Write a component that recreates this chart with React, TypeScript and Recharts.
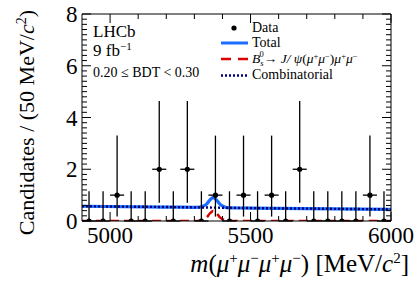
import React from "react";
import { ComposedChart, Line, Scatter, XAxis, YAxis, ErrorBar } from "recharts";

// ---- data ----
const binCenters = [4925, 4975, 5025, 5075, 5125, 5175, 5225, 5275, 5325, 5375, 5425, 5475, 5525, 5575, 5625, 5675, 5725, 5775, 5825, 5875, 5925, 5975];
const counts = [0, 0, 1, 0, 0, 2, 0, 2, 0, 1, 0, 1, 0, 1, 0, 2, 0, 0, 0, 0, 1, 0];
// lower / upper ends of the vertical error bars, per count value
const barLow = [0, 0.17, 0.71];
const barHigh = [1.15, 3.3, 4.64];
const halfBin = 25;

const combMass = [4900, 5200, 5500, 5800, 6000];
const combVals = [0.57, 0.54, 0.5, 0.47, 0.45];

const sigMass = [4900, 5300, 5320, 5335, 5345, 5355, 5362, 5367, 5372, 5380, 5390, 5400, 5415, 5430, 6000];
const sigVals = [0, 0, 0.01, 0.07, 0.15, 0.29, 0.36, 0.39, 0.36, 0.29, 0.15, 0.07, 0.01, 0, 0];

const totMass = [4900, 5200, 5300, 5320, 5335, 5345, 5355, 5362, 5367, 5372, 5380, 5390, 5400, 5415, 5430, 5500, 5800, 6000];
const totVals = [0.57, 0.54, 0.53, 0.535, 0.59, 0.67, 0.81, 0.88, 0.91, 0.88, 0.8, 0.66, 0.58, 0.52, 0.51, 0.5, 0.47, 0.45];

const xTicks = [5000, 5100, 5200, 5300, 5400, 5500, 5600, 5700, 5800, 5900, 6000];
const xMajor = [5000, 5500, 6000];
const yTicks = Array.from({ length: 41 }, (_, i) => Number((i * 0.2).toFixed(1)));
const yMajor = [0, 2, 4, 6, 8];

const FONT = "'Liberation Serif', 'Times New Roman', serif";
const BLUE = "#1a6dff";
const RED = "#dd0000";
const NAVY = "#00007f";

const points = binCenters.map((x, i) => ({
  x,
  y: counts[i],
  ey: [counts[i] - barLow[counts[i]], barHigh[counts[i]] - counts[i]],
  ex: halfBin,
}));
const comb = combMass.map((x, i) => ({ x, y: combVals[i] }));
const sig = sigMass.map((x, i) => ({ x, y: sigVals[i] }));
const tot = totMass.map((x, i) => ({ x, y: totVals[i] }));

const isMajorY = (v: number) => yMajor.some((m) => Math.abs(m - v) < 1e-6);

const BottomTick = (p: any) => {
  const v = p.payload.value;
  const major = xMajor.includes(v);
  return (
    <g>
      <line x1={p.x} x2={p.x} y1={p.y} y2={p.y - (major ? 9 : 5)} stroke="#000" strokeWidth={1} />
      {major && (
        <text x={p.x} y={p.y + 22} textAnchor="middle" fontFamily={FONT} fontSize={23} fill="#000">
          {v}
        </text>
      )}
    </g>
  );
};
const TopTick = (p: any) => {
  const v = p.payload.value;
  const major = xMajor.includes(v);
  return <line x1={p.x} x2={p.x} y1={p.y} y2={p.y + (major ? 9 : 5)} stroke="#000" strokeWidth={1} />;
};
const LeftTick = (p: any) => {
  const v = p.payload.value;
  const major = isMajorY(v);
  return (
    <g>
      <line x1={p.x} x2={p.x + (major ? 9 : 5)} y1={p.y} y2={p.y} stroke="#000" strokeWidth={1} />
      {major && (
        <text x={p.x - 4.5} y={p.y} dy="0.35em" textAnchor="end" fontFamily={FONT} fontSize={23} fill="#000">
          {v}
        </text>
      )}
    </g>
  );
};
const RightTick = (p: any) => {
  const v = p.payload.value;
  const major = isMajorY(v);
  return <line x1={p.x} x2={p.x - (major ? 9 : 5)} y1={p.y} y2={p.y} stroke="#000" strokeWidth={1} />;
};

const Dot = (p: any) => <circle cx={p.cx} cy={p.cy} r={2.6} fill="#000" />;

export default function App() {
  return (
    <div style={{ position: "relative", width: 415, height: 283, background: "#fff" }}>
      <style>{"body{margin:0}"}</style>
      <ComposedChart width={415} height={283} margin={{ top: 0, right: 0, bottom: 0, left: 0 }}>
        <XAxis
          xAxisId={0}
          dataKey="x"
          type="number"
          domain={[4900, 6000]}
          allowDataOverflow
          ticks={xTicks}
          interval={0}
          height={62}
          tickSize={0}
          tickMargin={0}
          tickLine={false}
          tick={BottomTick}
          axisLine={{ stroke: "#000", strokeWidth: 1 }}
        />
        <XAxis
          xAxisId="top"
          orientation="top"
          dataKey="x"
          type="number"
          domain={[4900, 6000]}
          allowDataOverflow
          ticks={xTicks}
          interval={0}
          height={14}
          tickSize={0}
          tickMargin={0}
          tickLine={false}
          tick={TopTick}
          axisLine={{ stroke: "#000", strokeWidth: 1 }}
        />
        <YAxis
          yAxisId={0}
          type="number"
          domain={[0, 8]}
          allowDataOverflow
          ticks={yTicks}
          interval={0}
          width={82}
          tickSize={0}
          tickMargin={0}
          tickLine={false}
          tick={LeftTick}
          axisLine={{ stroke: "#000", strokeWidth: 1 }}
        />
        <YAxis
          yAxisId="right"
          orientation="right"
          type="number"
          domain={[0, 8]}
          allowDataOverflow
          ticks={yTicks}
          interval={0}
          width={24}
          tickSize={0}
          tickMargin={0}
          tickLine={false}
          tick={RightTick}
          axisLine={{ stroke: "#000", strokeWidth: 1 }}
        />
        <Line data={sig} dataKey="y" type="monotone" stroke={RED} strokeWidth={2.5} strokeDasharray="9 5" dot={false} isAnimationActive={false} />
        <Line data={tot} dataKey="y" type="monotone" stroke={BLUE} strokeWidth={3.2} dot={false} isAnimationActive={false} />
        <Line data={comb} dataKey="y" type="monotone" stroke={NAVY} strokeWidth={2.4} strokeDasharray="2 2" dot={false} isAnimationActive={false} />
        <Scatter data={points} dataKey="y" shape={Dot} isAnimationActive={false}>
          <ErrorBar dataKey="ey" direction="y" width={0} stroke="#000" strokeWidth={1.3} />
          <ErrorBar dataKey="ex" direction="x" width={0} stroke="#000" strokeWidth={1.3} />
        </Scatter>
      </ComposedChart>
      <svg width={415} height={283} style={{ position: "absolute", left: 0, top: 0, pointerEvents: "none" }} fontFamily={FONT} fill="#000">
        <text x={93} y={37} fontSize={17}>LHCb</text>
        <text x={93} y={56} fontSize={17}>
          9 fb<tspan dy={-6} fontSize={11}>−1</tspan>
        </text>
        <text x={93} y={77} fontSize={14}>0.20 ≤ BDT &lt; 0.30</text>

        <circle cx={234} cy={28} r={2.6} fill="#000" />
        <text x={252} y={32} fontSize={14}>Data</text>
        <line x1={221} x2={248} y1={43} y2={43} stroke={BLUE} strokeWidth={3} />
        <text x={252} y={47} fontSize={14}>Total</text>
        <line x1={221} x2={248} y1={59} y2={59} stroke={RED} strokeWidth={2.5} strokeDasharray="10 7" />
        <text x={252} y={63} fontSize={13.5}>
          <tspan fontStyle="italic">B</tspan>
          <tspan dy={3} fontSize={8.5} fontStyle="italic">s</tspan>
          <tspan dx={-4} dy={-9} fontSize={8.5}>0</tspan>
          <tspan dy={6}>→ </tspan>
          <tspan fontStyle="italic">J/ ψ</tspan>
          <tspan>(</tspan>
          <tspan fontStyle="italic">μ</tspan>
          <tspan dy={-4} fontSize={8.5}>+</tspan>
          <tspan dy={4} fontStyle="italic">μ</tspan>
          <tspan dy={-4} fontSize={8.5}>−</tspan>
          <tspan dy={4}>)</tspan>
          <tspan fontStyle="italic">μ</tspan>
          <tspan dy={-4} fontSize={8.5}>+</tspan>
          <tspan dy={4} fontStyle="italic">μ</tspan>
          <tspan dy={-4} fontSize={8.5}>−</tspan>
        </text>
        <line x1={221} x2={248} y1={75.5} y2={75.5} stroke={NAVY} strokeWidth={2.4} strokeDasharray="2 2" />
        <text x={252} y={79} fontSize={14}>Combinatorial</text>

        <text x={409} y={272} fontSize={25} textAnchor="end">
          <tspan fontStyle="italic">m</tspan>
          <tspan>(</tspan>
          <tspan fontStyle="italic">μ</tspan>
          <tspan dy={-9} fontSize={15}>+</tspan>
          <tspan dy={9} fontStyle="italic">μ</tspan>
          <tspan dy={-9} fontSize={15}>−</tspan>
          <tspan dy={9} fontStyle="italic">μ</tspan>
          <tspan dy={-9} fontSize={15}>+</tspan>
          <tspan dy={9} fontStyle="italic">μ</tspan>
          <tspan dy={-9} fontSize={15}>−</tspan>
          <tspan dy={9}>) [MeV/</tspan>
          <tspan fontStyle="italic">c</tspan>
          <tspan dy={-9} fontSize={15}>2</tspan>
          <tspan dy={9}>]</tspan>
        </text>

        <text transform="translate(34,10) rotate(-90)" textAnchor="end" fontSize={22}>
          <tspan>Candidates / (50 MeV/</tspan>
          <tspan fontStyle="italic">c</tspan>
          <tspan dy={-8} fontSize={14}>2</tspan>
          <tspan dy={8}>)</tspan>
        </text>
      </svg>
    </div>
  );
}
